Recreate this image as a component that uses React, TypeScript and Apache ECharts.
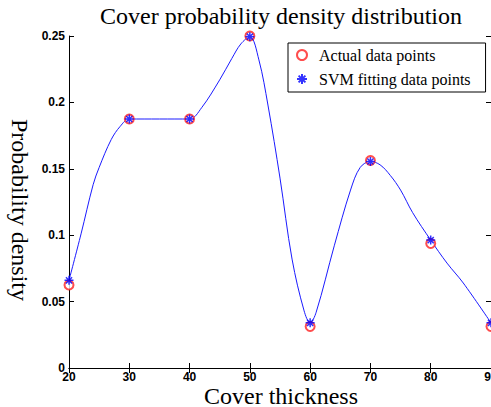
import React, { useEffect, useRef } from "react";
import * as echarts from "echarts";

const xValues = [20, 30, 40, 50, 60, 70, 80, 90];
const actualValues = [0.0625, 0.1875, 0.1875, 0.25, 0.03125, 0.15625, 0.09375, 0.03125];
const svmValues = [0.066, 0.1875, 0.1875, 0.2495, 0.034, 0.1555, 0.0963, 0.034];

const curveX = [20, 22, 24, 25, 27, 28.5, 30, 35, 40, 42, 45, 47, 48.5, 50, 51.5, 53, 55, 57, 59, 60, 61, 64, 66.7, 68.3, 70, 71.6, 73.3, 75, 77, 80, 82.7, 85.4, 90];
const curveY = [0.066, 0.101, 0.138, 0.151, 0.172, 0.182, 0.1875, 0.1875, 0.1875, 0.196, 0.217, 0.233, 0.244, 0.2495, 0.232, 0.198, 0.143, 0.082, 0.043, 0.034, 0.042, 0.092, 0.134, 0.151, 0.1555, 0.153, 0.145, 0.134, 0.117, 0.0963, 0.079, 0.064, 0.034];

const xTicks = { min: 20, max: 90, interval: 10 };
const yTicks = { min: 0, max: 0.25, interval: 0.05 };

const asterisk = "path://M5,0L5,10M0,5L10,5M1.6,1.6L8.4,8.4M1.6,8.4L8.4,1.6";

export default function App() {
  const ref = useRef<HTMLDivElement>(null);
  useEffect(() => {
    if (!ref.current) return;
    const chart = echarts.init(ref.current, undefined, { renderer: "svg" });
    const labelStyle = {
      fontFamily: "Liberation Sans, Arial, sans-serif",
      fontWeight: "bold" as const,
      fontSize: 12,
      color: "#000",
    };
    const serif = "Liberation Serif, Times New Roman, serif";
    const baseAxis = {
      type: "value" as const,
      axisLine: { show: true, lineStyle: { color: "#000", width: 1 } },
      axisTick: { show: true, inside: true, length: 5, lineStyle: { color: "#000" } },
      splitLine: { show: false },
    };
    chart.setOption({
      animation: false,
      backgroundColor: "#fff",
      title: {
        text: "Cover probability density distribution",
        left: 281,
        top: 4,
        padding: 0,
        textAlign: "center",
        textStyle: { fontFamily: serif, fontSize: 24, fontWeight: "normal", color: "#000" },
      },
      legend: {
        orient: "vertical",
        left: 288,
        top: 43,
        padding: [4, 15, 5, 8],
        itemGap: 8,
        itemWidth: 14,
        itemHeight: 10,
        borderColor: "#000",
        borderWidth: 1,
        backgroundColor: "#fff",
        data: ["Actual data points", "SVM fitting data points"],
        textStyle: { fontFamily: serif, fontSize: 16, color: "#000", lineHeight: 16, padding: [0, 0, 0, 5] },
      },
      graphic: [
        {
          type: "text",
          x: 20,
          y: 210,
          rotation: -Math.PI / 2,
          style: {
            text: "Probability density",
            fontFamily: serif,
            fontSize: 24,
            fill: "#000",
            textAlign: "center",
            verticalAlign: "middle",
          },
        },
        {
          type: "text",
          x: 281,
          y: 396,
          style: {
            text: "Cover thickness",
            fontFamily: serif,
            fontSize: 24,
            lineHeight: 20,
            fill: "#000",
            textAlign: "center",
            verticalAlign: "middle",
          },
        },
      ],
      grid: { left: 69, right: 0, top: 36, bottom: 39, outerBoundsMode: "none", containLabel: false },
      xAxis: [
        {
          ...baseAxis,
          position: "bottom",
          ...xTicks,
          axisLabel: { ...labelStyle, margin: 3 },
        },
        {
          ...baseAxis,
          position: "top",
          ...xTicks,
          axisLabel: { show: false },
        },
      ],
      yAxis: [
        {
          ...baseAxis,
          position: "left",
          ...yTicks,
          axisLabel: { ...labelStyle, margin: 4 },
        },
        {
          ...baseAxis,
          position: "right",
          ...yTicks,
          axisLabel: { show: false },
        },
      ],
      series: [
        {
          name: "SVM curve",
          type: "line",
          data: curveX.map((x, i) => [x, curveY[i]]),
          smooth: 0.35,
          showSymbol: false,
          symbol: "none",
          lineStyle: { color: "#1a1aff", width: 1 },
          z: 1,
        },
        {
          name: "Actual data points",
          type: "scatter",
          data: xValues.map((x, i) => [x, actualValues[i]]),
          symbol: "emptyCircle",
          symbolSize: 9,
          itemStyle: { color: "#ff2020", borderColor: "#ff2020", borderWidth: 1 },
          z: 2,
        },
        {
          name: "SVM fitting data points",
          type: "scatter",
          data: xValues.map((x, i) => [x, svmValues[i]]),
          symbol: asterisk,
          symbolSize: 9,
          itemStyle: { color: "#0000ff", borderColor: "#0000ff", borderWidth: 1.5 },
          z: 3,
        },
      ],
    });
    return () => chart.dispose();
  }, []);
  return (
    <div
      ref={ref}
      style={{ position: "fixed", left: 0, top: 0, width: 491, height: 407, background: "#fff" }}
    />
  );
}
